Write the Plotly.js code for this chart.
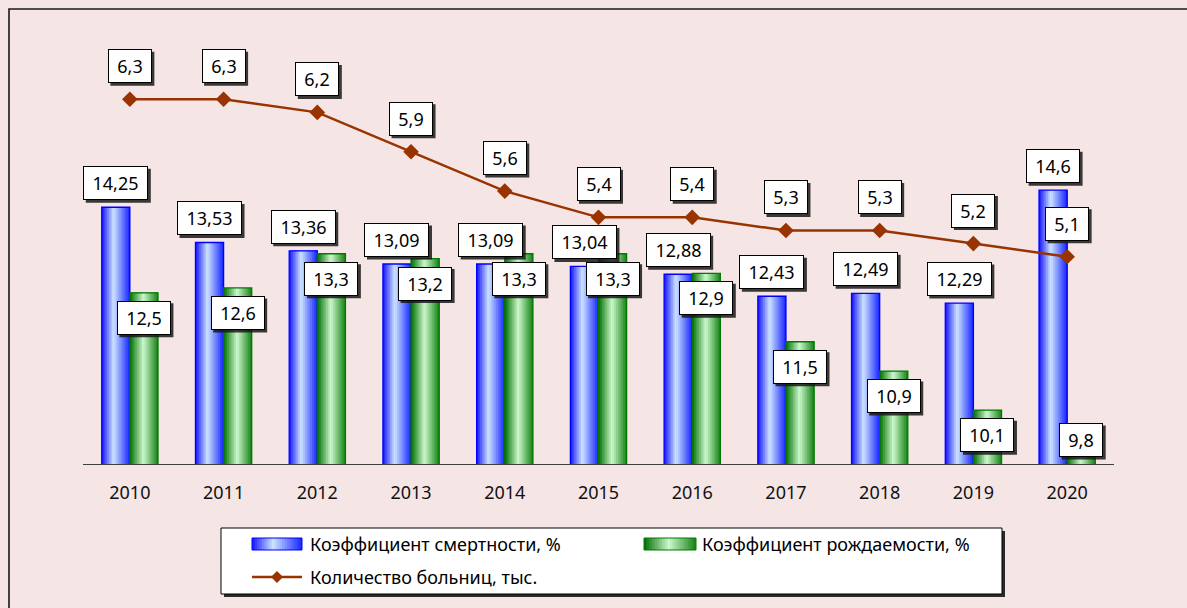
<!DOCTYPE html>
<html><head><meta charset="utf-8">
<script src="https://cdn.plot.ly/plotly-3.0.1.min.js"></script>
<style>html,body{margin:0;padding:0;background:#f5e5e5;}#chart{width:1187px;height:608px;}</style>
</head><body><div id="chart"></div>
<script>
// ---- data ----
const years = ['2010','2011','2012','2013','2014','2015','2016','2017','2018','2019','2020'];
const mortality = [14.25,13.53,13.36,13.09,13.09,13.04,12.88,12.43,12.49,12.29,14.6];
const birthRate = [12.5,12.6,13.3,13.2,13.3,13.3,12.9,11.5,10.9,10.1,9.8];
const hospitals = [6.3,6.3,6.2,5.9,5.6,5.4,5.4,5.3,5.3,5.2,5.1];
const seriesNames = ['Коэффициент смертности, %','Коэффициент рождаемости, %','Количество больниц, тыс.'];

// ---- style ----
const FONT = 'Noto Sans';
const BG = '#f5e5e5';
const LINE_COLOR = '#993300';
const blueStops = [[0,[20,20,255]],[0.42,[205,228,255]],[1,[22,36,255]]];
const greenStops = [[0,[0,110,0]],[0.48,[205,248,205]],[1,[20,130,20]]];
const blueEdge = '#0000ff', greenEdge = '#007a00';

const L = 83, R = 1114, T = 25, B = 464;
const PW = R - L, PH = B - T;
const yMin = 9, yPx = 48.9;
const y2Min = 3.52, y2Px = 131.2;

function colorAt(stops, t){
  for(let k=0;k<stops.length-1;k++){
    const [t0,c0]=stops[k],[t1,c1]=stops[k+1];
    if(t>=t0 && t<=t1){
      const f=(t-t0)/(t1-t0);
      const c=c0.map((v,j)=>Math.round(v+(c1[j]-v)*f));
      return 'rgb('+c.join(',')+')';
    }
  }
  const c=stops[stops.length-1][1]; return 'rgb('+c.join(',')+')';
}

const NS = 16, BW = 0.3;
function barTraces(vals, off0, stops, edge){
  const out=[];
  const w = BW/NS;
  for(let i=0;i<NS;i++){
    out.push({type:'bar', x:years, y:vals, offset:off0+i*w, width:BW-i*w,
      marker:{color:colorAt(stops,(i+0.5)/NS), line:{width:0}},
      hoverinfo:'skip', showlegend:false});
  }
  out.push({type:'bar', x:years, y:vals, offset:off0, width:BW,
    marker:{color:'rgba(0,0,0,0)', line:{color:edge, width:1.3}},
    hoverinfo:'skip', showlegend:false});
  return out;
}

const traces = [
  ...barTraces(mortality, -BW, blueStops, blueEdge),
  ...barTraces(birthRate, 0, greenStops, greenEdge),
  {type:'scatter', mode:'lines+markers', x:years, y:hospitals, yaxis:'y2',
   line:{color:LINE_COLOR, width:2.5}, marker:{symbol:'diamond', size:12, color:LINE_COLOR},
   name:seriesNames[2], hoverinfo:'skip', showlegend:false}
];

// text measure
const cv=document.createElement('canvas').getContext('2d');
cv.font='18px "'+FONT+'"';
function tw(s){return Math.ceil(cv.measureText(s).width);}
const fmt = v => String(v).replace('.', ',');

const annotations=[];
const shapes=[];
function label(text, xi, y, yref, xs, ys){
  const w = tw(text)+2;
  const ow = w + 16, oh = 34, sh = 2.5;
  shapes.push({type:'rect', xref:'x', yref, xsizemode:'pixel', ysizemode:'pixel',
    xanchor:xi, yanchor:y,
    x0:xs-ow/2+sh, x1:xs+ow/2+sh, y0:ys-oh/2-sh, y1:ys+oh/2-sh,
    line:{width:0}, fillcolor:'rgba(25,25,25,0.85)', layer:'above'});
  annotations.push({x:xi, y, xref:'x', yref, text, showarrow:false, width:w, height:18,
    borderpad:7, borderwidth:1, bordercolor:'#000', bgcolor:'#fff',
    font:{family:FONT, size:18, color:'#000'}, xshift:xs, yshift:ys});
}
const halfBarPx = BW/2*PW/years.length;
years.forEach((yr,i)=>{
  label(fmt(mortality[i]), i, mortality[i], 'y', -halfBarPx, 24);
  const g = birthRate[i];
  if((g-yMin)*yPx - 25 < 24) label(fmt(g), i, yMin, 'y', halfBarPx, 24);
  else label(fmt(g), i, g, 'y', halfBarPx, -25);
  label(fmt(hospitals[i]), i, hospitals[i], 'y2', 0, 33);
});

// paper helpers
const px = v => (v-L)/PW;
const py = v => (B-v)/PH;
// outer border
shapes.push({type:'rect', xref:'paper', yref:'paper', x0:px(9), x1:px(1400), y0:py(9), y1:py(800),
  line:{color:'#1a1a1a', width:1.6}, fillcolor:'rgba(0,0,0,0)', layer:'below'});
// legend box
shapes.push({type:'rect', xref:'paper', yref:'paper', x0:px(224), x1:px(1005), y0:py(531), y1:py(597),
  line:{width:0}, fillcolor:'#2a2a2a'});
shapes.push({type:'rect', xref:'paper', yref:'paper', x0:px(221), x1:px(1002), y0:py(528), y1:py(594),
  line:{color:'#000', width:1}, fillcolor:'#fff'});
function swatch(x0,x1,y0,y1,stops,edge){
  const n=20, w=(x1-x0)/n;
  for(let i=0;i<n;i++){
    shapes.push({type:'rect', xref:'paper', yref:'paper', x0:px(x0+i*w), x1:px(x1), y0:py(y0), y1:py(y1),
      line:{width:0}, fillcolor:colorAt(stops,(i+0.5)/n)});
  }
  shapes.push({type:'rect', xref:'paper', yref:'paper', x0:px(x0), x1:px(x1), y0:py(y0), y1:py(y1),
    line:{color:edge, width:1}, fillcolor:'rgba(0,0,0,0)'});
}
swatch(252,302,538,550,blueStops,blueEdge);
swatch(644,696,538,550,greenStops,greenEdge);
shapes.push({type:'line', xref:'paper', yref:'paper', x0:px(252), x1:px(302), y0:py(577), y1:py(577),
  line:{color:LINE_COLOR, width:2.5}});
{
  const cx=277, cy=577, d=6;
  shapes.push({type:'path', xref:'paper', yref:'paper',
    path:`M ${px(cx)},${py(cy-d)} L ${px(cx+d)},${py(cy)} L ${px(cx)},${py(cy+d)} L ${px(cx-d)},${py(cy)} Z`,
    fillcolor:LINE_COLOR, line:{width:0}});
}
const legFont={family:FONT, size:18, color:'#000'};
annotations.push({xref:'paper', yref:'paper', x:px(308), y:py(544), xanchor:'left', yanchor:'middle', text:seriesNames[0], showarrow:false, font:legFont});
annotations.push({xref:'paper', yref:'paper', x:px(700), y:py(544), xanchor:'left', yanchor:'middle', text:seriesNames[1], showarrow:false, font:legFont});
annotations.push({xref:'paper', yref:'paper', x:px(308), y:py(577), xanchor:'left', yanchor:'middle', text:seriesNames[2], showarrow:false, font:legFont});

const layout = {
  width:1187, height:608,
  margin:{l:L, r:1187-R, t:T, b:608-B, pad:0},
  paper_bgcolor:BG, plot_bgcolor:BG,
  barmode:'overlay', showlegend:false,
  xaxis:{type:'category', range:[-0.5,10.5], showline:true, linecolor:'#404040', linewidth:1,
    showgrid:false, zeroline:false, ticks:'', tickfont:{family:FONT, size:18, color:'#111'},
    ticklabelstandoff:12, fixedrange:true},
  yaxis:{range:[yMin, yMin+PH/yPx], visible:false, fixedrange:true},
  yaxis2:{range:[y2Min, y2Min+PH/y2Px], overlaying:'y', visible:false, fixedrange:true},
  shapes, annotations
};
Plotly.newPlot('chart', traces, layout, {displayModeBar:false, staticPlot:true});
</script></body></html>
